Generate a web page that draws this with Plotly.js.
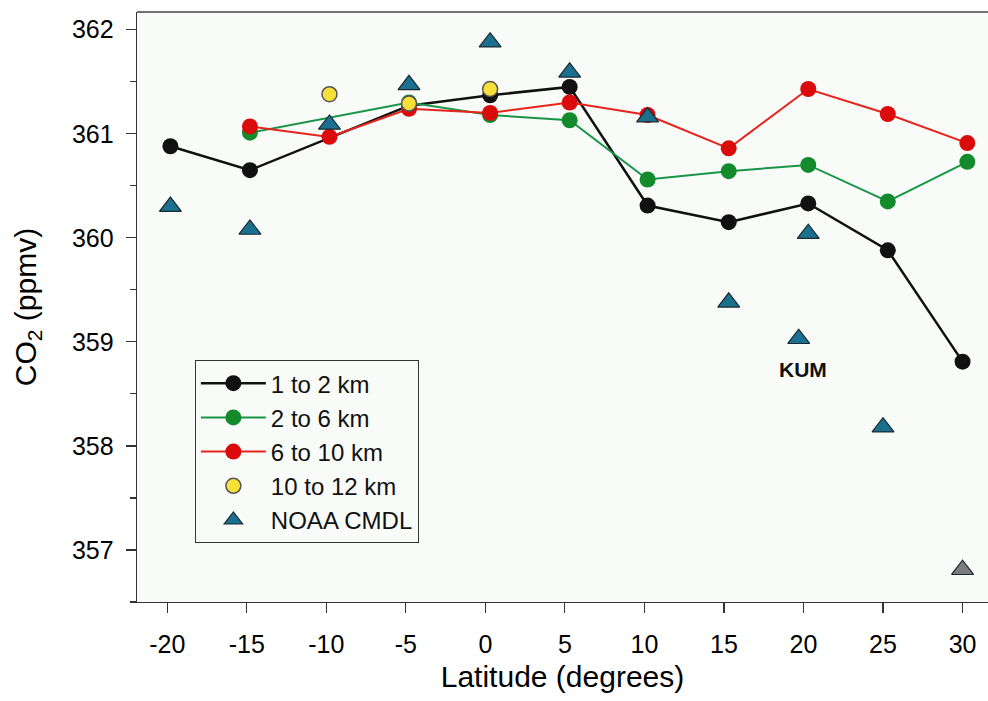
<!DOCTYPE html>
<html>
<head>
<meta charset="utf-8">
<script src="https://cdn.plot.ly/plotly-3.0.1.min.js"></script>
<style>html,body{margin:0;padding:0;background:#fff;}</style>
</head>
<body>
<div id="chart" style="width:988px;height:701px;"></div>
<script>
// 1 to 2 km
const lat1 = [-19.8, -14.8, -4.8, 0.3, 5.3, 10.2, 15.3, 20.3, 25.3, 30.0];
const co2_1 = [360.88, 360.65, 361.27, 361.37, 361.45, 360.31, 360.15, 360.33, 359.88, 358.81];
// 2 to 6 km
const lat2 = [-14.8, -4.8, 0.3, 5.3, 10.2, 15.3, 20.3, 25.3, 30.3];
const co2_2 = [361.01, 361.30, 361.18, 361.13, 360.56, 360.64, 360.70, 360.35, 360.73];
// 6 to 10 km
const lat3 = [-14.8, -9.8, -4.8, 0.3, 5.3, 10.2, 15.3, 20.3, 25.3, 30.3];
const co2_3 = [361.07, 360.97, 361.24, 361.20, 361.30, 361.18, 360.86, 361.43, 361.19, 360.91];
// 10 to 12 km
const lat4 = [-9.8, -4.8, 0.3];
const co2_4 = [361.38, 361.29, 361.43];
// NOAA CMDL
const latN = [-19.8, -14.8, -9.8, -4.8, 0.3, 5.3, 10.2, 15.3, 20.3, 19.7, 25.0, 30.0];
const co2_N = [360.30, 360.08, 361.09, 361.47, 361.88, 361.59, 361.16, 359.38, 360.04, 359.03, 358.18, 356.81];
const colN = ['#1b6f8f','#1b6f8f','#1b6f8f','#1b6f8f','#1b6f8f','#1b6f8f','#1b6f8f','#1b6f8f','#1b6f8f','#1b6f8f','#1b6f8f','#7a7d80'];
// tick labels
const xTicks = [-20, -15, -10, -5, 0, 5, 10, 15, 20, 25, 30];
const yTicks = [357, 358, 359, 360, 361, 362];

const traces = [
  {x: lat1, y: co2_1, name: '1 to 2 km', mode: 'lines+markers',
   line: {color: '#111111', width: 2.5}, marker: {color: '#111111', size: 16}},
  {x: lat2, y: co2_2, name: '2 to 6 km', mode: 'lines+markers',
   line: {color: '#1a9448', width: 2}, marker: {color: '#138a2c', size: 16}},
  {x: lat3, y: co2_3, name: '6 to 10 km', mode: 'lines+markers',
   line: {color: '#e8231c', width: 2}, marker: {color: '#d90b0b', size: 16}},
  {x: lat4, y: co2_4, name: '10 to 12 km', mode: 'markers',
   marker: {color: '#f7e03a', size: 15, line: {color: '#555', width: 1.5}}},
  {x: latN, y: co2_N, name: 'NOAA CMDL', mode: 'markers',
   marker: {symbol: 'triangle-up', color: colN, size: 19, line: {color: '#1a2a30', width: 1.2}}}
];

const layout = {
  width: 988, height: 701,
  margin: {l: 137, r: 0, t: 12, b: 99},
  paper_bgcolor: '#ffffff',
  plot_bgcolor: '#f9fbf9',
  font: {family: 'Liberation Sans, Arial, sans-serif', color: '#000', size: 25},
  showlegend: true,
  legend: {
    x: 0.068, y: 0.41, xanchor: 'left', yanchor: 'top',
    bgcolor: 'rgba(0,0,0,0)', bordercolor: '#333', borderwidth: 1,
    font: {size: 24, color: '#111'}, tracegroupgap: 0, itemwidth: 65
  },
  xaxis: {
    range: [-21.9, 31.6], tickvals: xTicks, ticktext: xTicks.map(String),
    ticks: 'outside', ticklen: 10, tickwidth: 1.2, tickcolor: '#333',
    showline: true, linecolor: '#333', linewidth: 1.3, showgrid: false, zeroline: false,
    tickfont: {size: 25}, ticklabelstandoff: 10,
    title: {text: 'Latitude (degrees)', font: {size: 30}, standoff: 8}
  },
  yaxis: {
    range: [356.5, 362.17], tickvals: yTicks, ticktext: yTicks.map(String),
    ticks: 'outside', ticklen: 10, tickwidth: 1.2, tickcolor: '#333',
    minor: {dtick: 0.5, tick0: 356.5, ticks: 'outside', ticklen: 6, tickwidth: 1.2, tickcolor: '#333', showgrid: false},
    showline: true, linecolor: '#333', linewidth: 1.3, showgrid: false, zeroline: false,
    tickfont: {size: 25}, ticklabelstandoff: 7,
    title: {text: 'CO<sub>2</sub> (ppmv)', font: {size: 30}, standoff: 26}
  },
  shapes: [
    {type: 'line', xref: 'paper', yref: 'paper', x0: 0, x1: 1, y0: 1, y1: 1,
     line: {color: '#444', width: 1.3}}
  ],
  annotations: [
    {x: 19.95, y: 358.73, xref: 'x', yref: 'y', text: '<b>KUM</b>', showarrow: false,
     font: {size: 21, color: '#111'}}
  ]
};

Plotly.newPlot('chart', traces, layout, {displayModeBar: false, staticPlot: true});
</script>
</body>
</html>
